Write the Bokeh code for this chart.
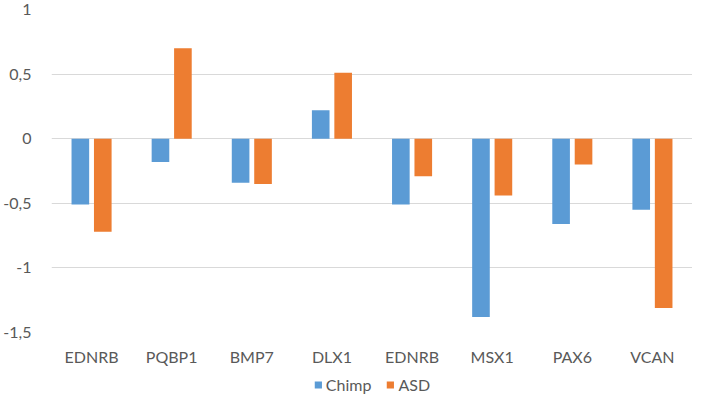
import numpy as np
from bokeh.plotting import figure
from bokeh.layouts import column
from bokeh.models import ColumnDataSource, FixedTicker, CustomJSTickFormatter, Legend, LegendItem
from bokeh.embed import file_html
from bokeh.resources import INLINE

categories = ["EDNRB", "PQBP1", "BMP7", "DLX1", "EDNRB", "MSX1", "PAX6", "VCAN"]
chimp = [-0.51, -0.18, -0.34, 0.22, -0.51, -1.38, -0.66, -0.55]
asd = [-0.72, 0.70, -0.35, 0.51, -0.29, -0.44, -0.20, -1.31]
series_names = ["Chimp", "ASD"]
y_ticks = [-1.5, -1.0, -0.5, 0.0, 0.5, 1.0]

FONT = "Lato"
TXT = "#595959"
BLUE = "#5B9BD5"
ORANGE = "#ED7D31"

idx = np.arange(len(categories))
centers = [float(c) for c in idx + 0.5]
src = ColumnDataSource(dict(
    xc=[c - 0.14 for c in centers], xa=[c + 0.14 for c in centers], chimp=chimp, asd=asd,
))

p = figure(width=692, height=368, x_range=(0, len(categories)), y_range=(-1.5, 1.0),
           output_backend="svg", toolbar_location=None,
           min_border_top=9, min_border_right=0, min_border_left=39, min_border_bottom=26)
p.outline_line_color = None
p.background_fill_color = "white"
p.border_fill_color = "white"

p.vbar(x="xc", top="chimp", bottom=0, width=0.22, source=src, fill_color=BLUE, line_color=None)
p.vbar(x="xa", top="asd", bottom=0, width=0.22, source=src, fill_color=ORANGE, line_color=None)

# y axis
p.yaxis.ticker = FixedTicker(ticks=y_ticks)
p.yaxis.formatter = CustomJSTickFormatter(code="return tick.toString().replace('.', ',');")
p.yaxis.axis_line_color = None
p.yaxis.major_tick_line_color = None
p.yaxis.minor_tick_line_color = None
p.yaxis.major_label_text_font = FONT
p.yaxis.major_label_text_font_size = "16px"
p.yaxis.major_label_text_color = TXT
p.yaxis.major_label_standoff = 14

# x axis
p.xaxis.ticker = FixedTicker(ticks=centers)
p.xaxis.major_label_overrides = {c: lab for c, lab in zip(centers, categories)}
p.xaxis.axis_line_color = None
p.xaxis.major_tick_line_color = None
p.xaxis.minor_tick_line_color = None
p.xaxis.major_label_text_font = FONT
p.xaxis.major_label_text_font_size = "16px"
p.xaxis.major_label_text_color = TXT
p.xaxis.major_label_standoff = 8

p.xgrid.grid_line_color = None
p.ygrid.ticker = FixedTicker(ticks=y_ticks)
p.ygrid.grid_line_color = "#d9d9d9"
p.ygrid.grid_line_width = 1

# legend strip (hidden renderers share the same data; only their legend swatches show)
p2 = figure(width=692, height=26, x_range=(0, 1), y_range=(0, 1),
            output_backend="svg", toolbar_location=None,
            min_border=0, min_border_left=16, x_axis_type=None, y_axis_type=None)
p2.outline_line_color = None
p2.xgrid.grid_line_color = None
p2.ygrid.grid_line_color = None
g1 = p2.vbar(x="xc", top="chimp", width=0.22, source=src, fill_color=BLUE, line_color=None, visible=False)
g2 = p2.vbar(x="xa", top="asd", width=0.22, source=src, fill_color=ORANGE, line_color=None, visible=False)
legend = Legend(items=[LegendItem(label=series_names[0], renderers=[g1]),
                       LegendItem(label=series_names[1], renderers=[g2])],
                orientation="horizontal", location="bottom_center",
                glyph_width=9, glyph_height=9, label_standoff=4, spacing=14,
                padding=0, margin=0, border_line_color=None, background_fill_alpha=0,
                inactive_fill_alpha=0,
                label_text_font=FONT, label_text_font_size="16px", label_text_color=TXT)
p2.add_layout(legend, "center")

layout = column(p, p2, spacing=0)
open("out.html", "w").write(file_html(layout, INLINE))
